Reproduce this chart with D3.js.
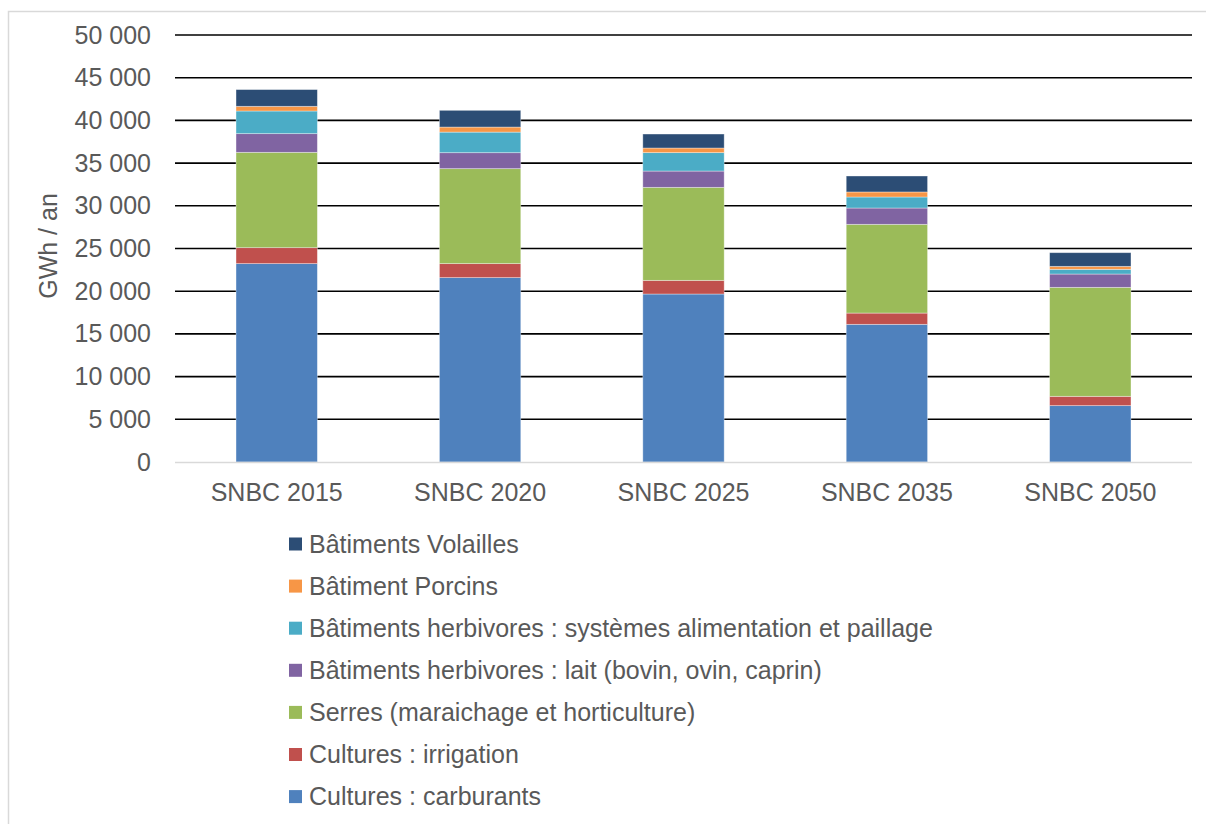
<!DOCTYPE html>
<html><head><meta charset="utf-8">
<script src="https://cdn.jsdelivr.net/npm/d3@7"></script>
<style>body{margin:0;background:#fff}svg{display:block}text{font-family:"Liberation Sans",Arial,sans-serif}</style>
</head><body>
<svg id="c" width="1206" height="824"></svg>
<script>
const categories = ["SNBC 2015","SNBC 2020","SNBC 2025","SNBC 2035","SNBC 2050"];
const seriesNames = [
  "Cultures : carburants",
  "Cultures : irrigation",
  "Serres (maraichage et horticulture)",
  "Bâtiments herbivores : lait (bovin, ovin, caprin)",
  "Bâtiments herbivores : systèmes alimentation et paillage",
  "Bâtiment Porcins",
  "Bâtiments Volailles"
];
const carburants = [23230, 21590, 19670, 16120, 6600];
const irrigation = [1870, 1640, 1600, 1320, 1090];
const serres     = [11160, 11120, 10890, 10390, 12760];
const lait       = [2190, 1870, 1910, 1910, 1560];
const systemes   = [2650, 2410, 2155, 1290, 550];
const porcins    = [550, 590, 540, 590, 350];
const volailles  = [1960, 1960, 1640, 1870, 1600];
const colors = ["#4f81bd","#c0504d","#9bbb59","#8064a2","#4bacc6","#f79646","#2c4d75"];
const yTicks = [0,5000,10000,15000,20000,25000,30000,35000,40000,45000,50000];

const seriesValues = [carburants, irrigation, serres, lait, systemes, porcins, volailles];
const rows = categories.map((c,i)=>{const r={cat:c}; seriesNames.forEach((s,j)=>r[s]=seriesValues[j][i]); return r;});
const stacked = d3.stack().keys(seriesNames)(rows);

const svg = d3.select("#c");
const FS = "25px";
// outer frame
svg.append("rect").attr("x",8.5).attr("y",11.5).attr("width",1300).attr("height",900)
  .attr("fill","none").attr("stroke","#d9d9d9").attr("stroke-width",1.5);

const pLeft=175, pRight=1192, pTop=35, pBottom=462;
const x = d3.scaleBand().domain(categories).range([pLeft,pRight]).paddingInner(0.6).paddingOuter(0.3);
const y = d3.scaleLinear().domain([0,50000]).range([pBottom,pTop]);
const fmt = v => d3.format(",")(v).replace(/,/g," ");

// gridlines
svg.append("g").selectAll("line").data(yTicks.filter(t=>t>0)).join("line")
  .attr("x1",pLeft).attr("x2",pRight).attr("y1",d=>y(d)).attr("y2",d=>y(d))
  .attr("stroke","#000").attr("stroke-width",1.6);

// bars
svg.append("g").selectAll("g").data(stacked).join("g").attr("fill",(d,i)=>colors[i])
  .selectAll("rect").data(d=>d).join("rect")
  .attr("x",d=>x(d.data.cat)).attr("width",x.bandwidth())
  .attr("y",d=>y(d[1])).attr("height",d=>y(d[0])-y(d[1]))
  .attr("stroke","#ffffff").attr("stroke-opacity",0.45).attr("stroke-width",0.8);

// zero axis line
svg.append("line").attr("x1",pLeft).attr("x2",pRight).attr("y1",y(0)+0.5).attr("y2",y(0)+0.5)
  .attr("stroke","#d9d9d9").attr("stroke-width",1.5);

// y axis
const yAxis = d3.axisLeft(y).tickValues(yTicks).tickFormat(fmt).tickSize(0).tickPadding(0);
const ga = svg.append("g").attr("transform",`translate(151,0)`).call(yAxis);
ga.select(".domain").remove();
ga.selectAll("text").attr("fill","#595959").style("font-size",FS).style("font-family","Liberation Sans, Arial, sans-serif");

// x axis
const xAxis = d3.axisBottom(x).tickSize(0).tickPadding(0);
const gx = svg.append("g").attr("transform",`translate(0,${pBottom+21})`).call(xAxis);
gx.select(".domain").remove();
gx.selectAll("text").attr("fill","#595959").style("font-size",FS).style("font-family","Liberation Sans, Arial, sans-serif");

// y title
svg.append("text").attr("transform","translate(57,246) rotate(-90)").attr("text-anchor","middle")
  .attr("fill","#595959").style("font-size",FS).text("GWh / an");

// legend (reverse order)
const legendItems = seriesNames.map((s,i)=>({name:s,color:colors[i]})).reverse();
const lg = svg.append("g").selectAll("g").data(legendItems).join("g")
  .attr("transform",(d,i)=>`translate(289,${544+i*42.1})`);
lg.append("rect").attr("x",0).attr("y",-6.5).attr("width",13).attr("height",13).attr("fill",d=>d.color);
lg.append("text").attr("x",20).attr("y",0).attr("dy","0.35em").attr("fill","#595959")
  .style("font-size",FS).text(d=>d.name);
</script>
</body></html>
